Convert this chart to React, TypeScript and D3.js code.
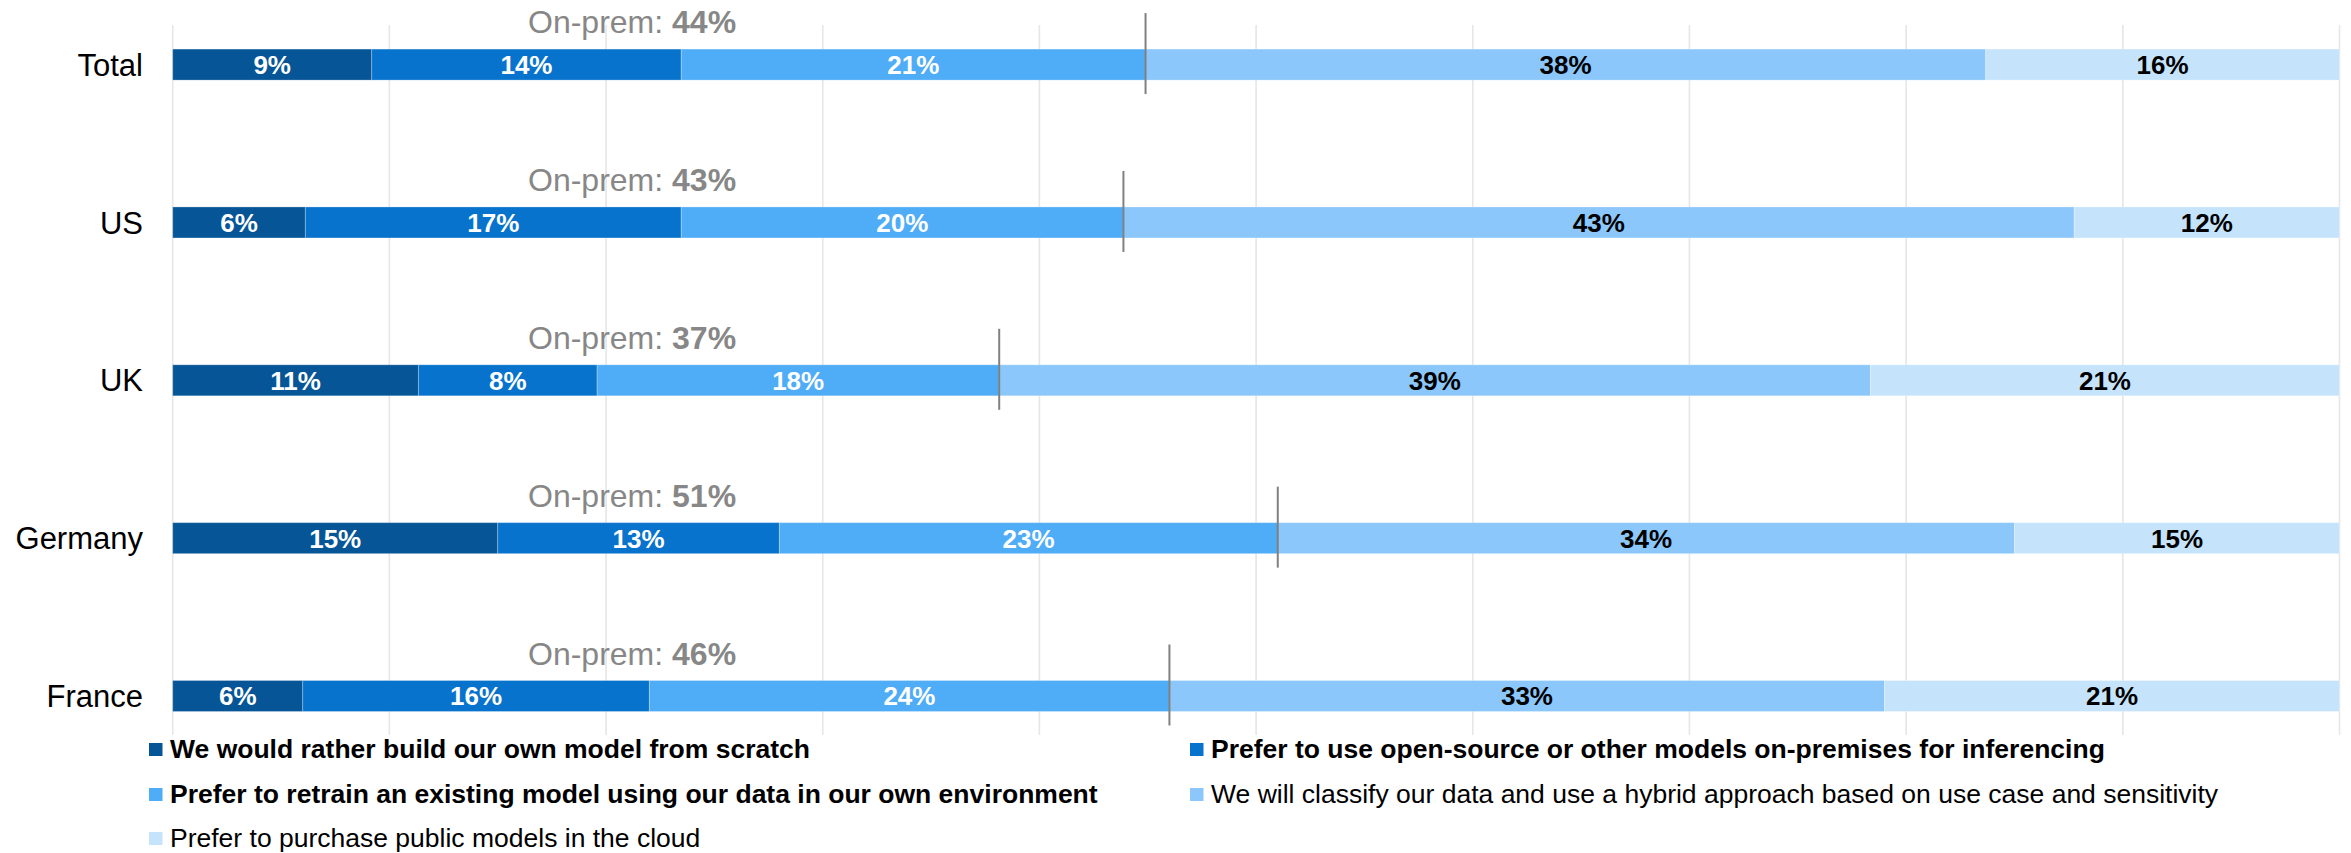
import React, { useEffect } from "react";
import * as d3 from "d3";

const categories = ["Total", "US", "UK", "Germany", "France"];
const seriesNames = [
  "We would rather build our own model from scratch",
  "Prefer to use open-source or other models on-premises for inferencing",
  "Prefer to retrain an existing model using our data in our own environment",
  "We will classify our data and use a hybrid approach based on use case and sensitivity",
  "Prefer to purchase public models in the cloud",
];
const buildFromScratch = [9, 6, 11, 15, 6];
const openSourceOnPrem = [14, 17, 8, 13, 16];
const retrainOwn = [21, 20, 18, 23, 24];
const hybridApproach = [38, 43, 39, 34, 33];
const publicCloud = [16, 12, 21, 15, 21];
const onPremTotals = [44, 43, 37, 51, 46];

const colors = ["#065597", "#0873CC", "#4FACF7", "#8BC7FA", "#C5E4FC"];
const labelColors = ["#ffffff", "#ffffff", "#ffffff", "#000000", "#000000"];
const boldLegend = [true, true, true, false, false];

const W = 2351;
const H = 853;
const FONT = "Arial, 'Liberation Sans', sans-serif";

export default function App() {
  useEffect(() => {
    document.body.style.margin = "0";
  }, []);

  const seriesArrays = [buildFromScratch, openSourceOnPrem, retrainOwn, hybridApproach, publicCloud];
  const keys = seriesArrays.map((_, i) => `s${i}`);
  const table = categories.map((c, r) => {
    const row: any = { cat: c };
    seriesArrays.forEach((arr, i) => (row[`s${i}`] = arr[r]));
    return row;
  });
  const stacked = d3.stack<any>().keys(keys).offset(d3.stackOffsetExpand)(table);

  const x = d3.scaleLinear().domain([0, 1]).range([172.7, 2339.5]);
  const y = d3.scalePoint<string>().domain(categories).range([64.6, 696]);
  const barH = 31;
  const ticks = d3.range(0, 1.0001, 0.1);

  const legendRows = [758, 803, 847];
  const legendCols = [149, 1190];

  return (
    <svg width={W} height={H} style={{ display: "block", position: "absolute", left: 0, top: 0, background: "#fff" }} fontFamily={FONT}>
      <rect x={0} y={0} width={W} height={H} fill="#fff" />
      {/* gridlines */}
      {ticks.map((t, i) => (
        <line key={i} x1={x(t)} x2={x(t)} y1={25} y2={735} stroke="#E6E6E6" strokeWidth={1.6} />
      ))}
      {/* bars */}
      {stacked.map((s, si) =>
        s.map((d, ri) => {
          const cy = y(categories[ri])!;
          const x0 = x(d[0]);
          const x1 = x(d[1]);
          return (
            <g key={`${si}-${ri}`}>
              <rect x={x0} y={cy - barH / 2} width={x1 - x0} height={barH} fill={colors[si]} stroke="rgba(255,255,255,0.25)" strokeWidth={1} />
              <text x={(x0 + x1) / 2} y={cy} dy="0.36em" textAnchor="middle" fontSize={26} fontWeight="bold" fill={labelColors[si]}>
                {seriesArrays[si][ri]}%
              </text>
            </g>
          );
        })
      )}
      {/* category labels */}
      {categories.map((c) => (
        <text key={c} x={143} y={y(c)!} dy="0.36em" textAnchor="end" fontSize={31} fill="#000">
          {c}
        </text>
      ))}
      {/* on-prem markers and labels */}
      {categories.map((c, ri) => {
        const cy = y(c)!;
        const mx = x(stacked[2][ri][1]);
        return (
          <g key={`op-${c}`}>
            <line x1={mx} x2={mx} y1={cy - barH / 2 - 36} y2={cy - barH / 2 + 45} stroke="#808080" strokeWidth={2} />
            <text x={528} y={cy - 31.5} fontSize={32} fill="#878787">
              On-prem: <tspan fontWeight="bold">{onPremTotals[ri]}%</tspan>
            </text>
          </g>
        );
      })}
      {/* legend */}
      {seriesNames.map((name, i) => {
        const row = Math.floor(i / 2);
        const col = i % 2;
        const bx = legendCols[col];
        const by = legendRows[row];
        return (
          <g key={name}>
            <rect x={bx} y={by - 15} width={13.5} height={13} fill={colors[i]} />
            <text x={bx + 21} y={by} fontSize={26.5} fontWeight={boldLegend[i] ? "bold" : "normal"} fill="#000">
              {name}
            </text>
          </g>
        );
      })}
    </svg>
  );
}
